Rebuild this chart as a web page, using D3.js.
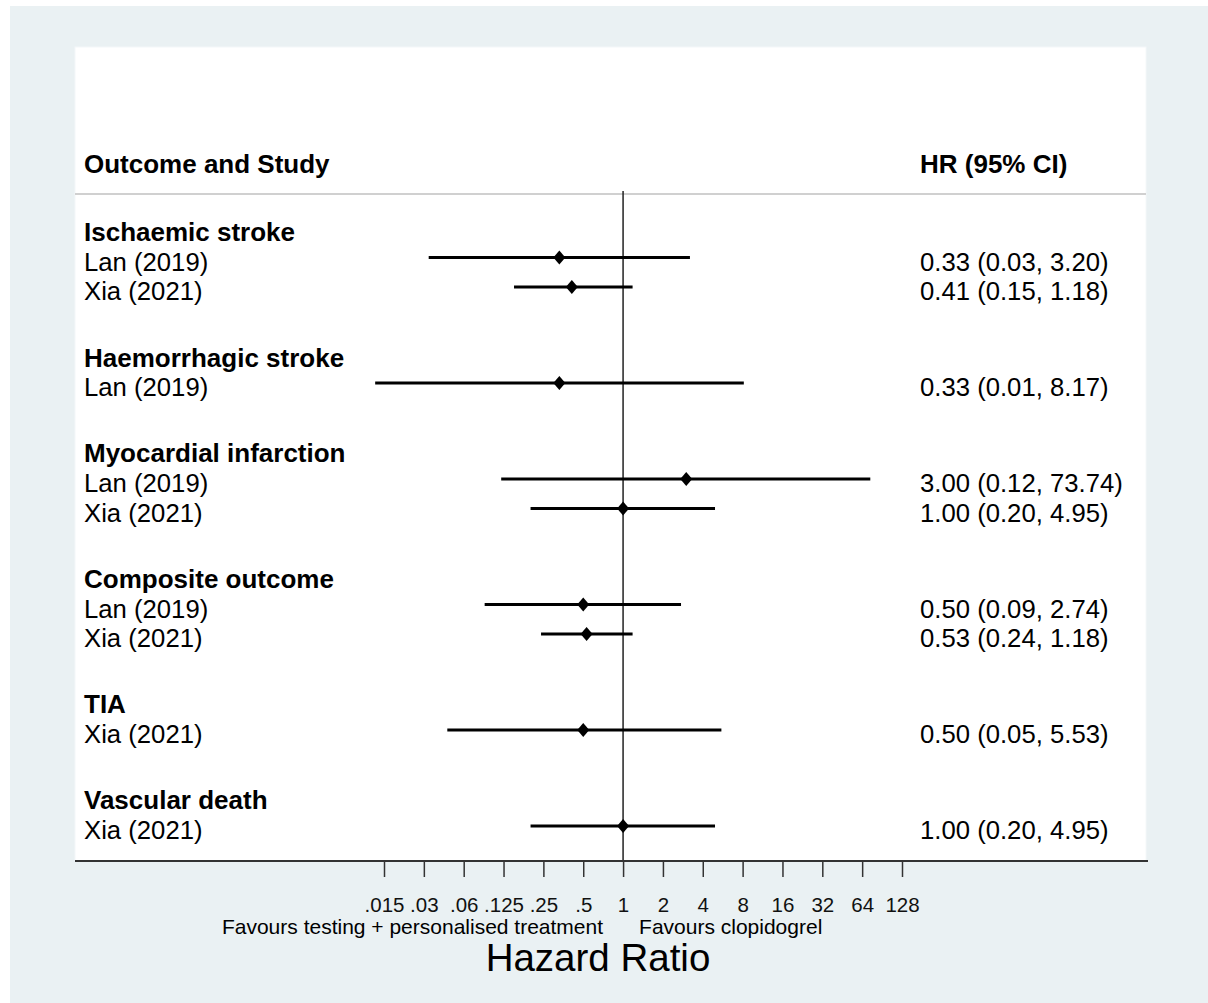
<!DOCTYPE html>
<html>
<head>
<meta charset="utf-8">
<script src="https://cdn.jsdelivr.net/npm/d3@7"></script>
<style>
  body { margin: 0; background: #fff; }
  svg { display: block; font-family: 'Liberation Sans', Arial, sans-serif; }
</style>
</head>
<body>
<svg id="drawing_region"></svg>
<script>
// outcomes (group headings) in drawing order
const outcomes = ['Ischaemic stroke', 'Haemorrhagic stroke', 'Myocardial infarction',
                  'Composite outcome', 'TIA', 'Vascular death']

// one entry per study estimate
const studyOutcome = ['Ischaemic stroke', 'Ischaemic stroke', 'Haemorrhagic stroke',
                      'Myocardial infarction', 'Myocardial infarction',
                      'Composite outcome', 'Composite outcome', 'TIA', 'Vascular death']
const studyNames = ['Lan (2019)', 'Xia (2021)', 'Lan (2019)', 'Lan (2019)', 'Xia (2021)',
                    'Lan (2019)', 'Xia (2021)', 'Xia (2021)', 'Xia (2021)']
const hr     = [0.33, 0.41, 0.33, 3.00, 1.00, 0.50, 0.53, 0.50, 1.00]
const ciLow  = [0.034, 0.15, 0.0134, 0.12, 0.20, 0.09, 0.24, 0.047, 0.20]
const ciHigh = [3.20, 1.18, 8.17, 73.74, 4.95, 2.74, 1.18, 5.53, 4.95]

// x axis ticks
const tickValues = [1/64, 1/32, 1/16, 1/8, 1/4, 1/2, 1, 2, 4, 8, 16, 32, 64, 128]
const tickLabels = ['.015', '.03', '.06', '.125', '.25', '.5', '1', '2', '4', '8', '16', '32', '64', '128']

class ForestPlot {
    constructor(config) {
        this.config = config
        this.init()
    }

    init() {
        let self = this
        const c = self.config

        self.svg = d3.select(c.parent)
            .attr('width', c.width)
            .attr('height', c.height)

        // build the row layout: heading, then its studies, extra gap between groups
        self.rows = []
        let idx = 0
        outcomes.forEach((o, gi) => {
            if (gi > 0) idx += c.groupGap
            self.rows.push({type: 'head', label: o, idx: idx})
            idx += 1
            studyNames.forEach((s, i) => {
                if (studyOutcome[i] !== o) return
                self.rows.push({type: 'study', label: s, idx: idx, hr: hr[i], lo: ciLow[i], hi: ciHigh[i]})
                idx += 1
            })
        })
        const lastIdx = idx - 1

        self.xscale = d3.scaleLog().base(2)
            .domain([tickValues[0], tickValues[tickValues.length - 1]])
            .range([c.tickLeft, c.tickRight])
        self.yscale = d3.scaleLinear()
            .domain([0, lastIdx])
            .range([c.firstRowY, c.lastRowY])

        self.xaxis = d3.axisBottom(self.xscale)
            .tickValues(tickValues)
            .tickFormat((d, i) => tickLabels[i])
            .tickSize(16)
            .tickPadding(20)
    }

    render() {
        let self = this
        const c = self.config
        const p = c.plot

        // grey-blue graph region and white plot region
        self.svg.append('rect')
            .attr('x', 10).attr('y', 6)
            .attr('width', c.width - 10).attr('height', c.height - 6)
            .attr('fill', '#eaf1f3')
        self.svg.append('rect')
            .attr('x', p.left).attr('y', p.top)
            .attr('width', p.right - p.left).attr('height', p.bottom - p.top)
            .attr('fill', '#fff')
            .attr('stroke', '#f4f8f9')

        // column headers
        self.svg.append('text')
            .attr('x', c.labelX).attr('y', c.headerY)
            .attr('font-size', 26).attr('font-weight', 'bold')
            .text('Outcome and Study')
        self.svg.append('text')
            .attr('x', c.valueX).attr('y', c.headerY)
            .attr('font-size', 26).attr('font-weight', 'bold')
            .text('HR (95% CI)')

        // separator under the header
        self.svg.append('line')
            .attr('x1', p.left).attr('x2', p.right)
            .attr('y1', c.sepY).attr('y2', c.sepY)
            .attr('stroke', '#d0d0d0').attr('stroke-width', 2)

        // line of no effect
        self.svg.append('line')
            .attr('x1', self.xscale(1)).attr('x2', self.xscale(1))
            .attr('y1', c.sepY - 3).attr('y2', p.bottom)
            .attr('stroke', '#222').attr('stroke-width', 1.5)

        // row labels
        self.svg.selectAll('text.rowlabel').data(self.rows).enter()
            .append('text')
            .attr('class', 'rowlabel')
            .attr('x', c.labelX)
            .attr('y', d => self.yscale(d.idx) + 13)
            .attr('font-size', d => d.type === 'head' ? 26 : 25.7)
            .attr('font-weight', d => d.type === 'head' ? 'bold' : 'normal')
            .text(d => d.label)

        const studies = self.rows.filter(d => d.type === 'study')

        // CI whiskers
        self.svg.selectAll('line.ci').data(studies).enter()
            .append('line')
            .attr('class', 'ci')
            .attr('x1', d => self.xscale(d.lo))
            .attr('x2', d => self.xscale(d.hi))
            .attr('y1', d => self.yscale(d.idx))
            .attr('y2', d => self.yscale(d.idx))
            .attr('stroke', '#000').attr('stroke-width', 3)

        // point estimates
        self.svg.selectAll('path.pt').data(studies).enter()
            .append('path')
            .attr('class', 'pt')
            .attr('d', d => {
                const x = self.xscale(d.hr), y = self.yscale(d.idx)
                return `M${x},${y - 7}L${x + 6},${y}L${x},${y + 7}L${x - 6},${y}Z`
            })
            .attr('fill', '#000')

        // HR (95% CI) column
        self.svg.selectAll('text.val').data(studies).enter()
            .append('text')
            .attr('class', 'val')
            .attr('x', c.valueX)
            .attr('y', d => self.yscale(d.idx) + 13)
            .attr('font-size', 25.7)
            .text(d => `${d.hr.toFixed(2)} (${d.lo.toFixed(2)}, ${d.hi.toFixed(2)})`)

        // x axis
        const ax = self.svg.append('g')
            .attr('transform', `translate(0,${p.bottom})`)
            .call(self.xaxis)
        ax.select('.domain').remove()
        ax.selectAll('.tick line').attr('stroke', '#333').attr('stroke-width', 1.5)
        ax.selectAll('.tick text')
            .attr('fill', '#111')
            .attr('font-size', 20.5)
            .attr('font-family', "'Liberation Sans', Arial, sans-serif")

        self.svg.append('line')
            .attr('x1', p.left).attr('x2', p.right + 2)
            .attr('y1', p.bottom).attr('y2', p.bottom)
            .attr('stroke', '#333').attr('stroke-width', 2)

        // favours labels and axis title
        self.svg.append('text')
            .attr('x', self.xscale(1) - 20).attr('y', 934)
            .attr('text-anchor', 'end').attr('font-size', 21)
            .text('Favours testing + personalised treatment')
        self.svg.append('text')
            .attr('x', self.xscale(1) + 16).attr('y', 934)
            .attr('font-size', 21)
            .text('Favours clopidogrel')
        self.svg.append('text')
            .attr('x', 598).attr('y', 971)
            .attr('text-anchor', 'middle').attr('font-size', 38.5)
            .text('Hazard Ratio')
    }
}

const config = {
    parent: '#drawing_region',
    width: 1208,
    height: 1003,
    plot: {left: 75, right: 1146, top: 47, bottom: 861},
    tickLeft: 384,
    tickRight: 902,
    firstRowY: 228,
    lastRowY: 826,
    groupGap: 1.25,
    labelX: 84,
    valueX: 920,
    headerY: 173,
    sepY: 194
}

const forest_plot = new ForestPlot(config)
forest_plot.render()
</script>
</body>
</html>
